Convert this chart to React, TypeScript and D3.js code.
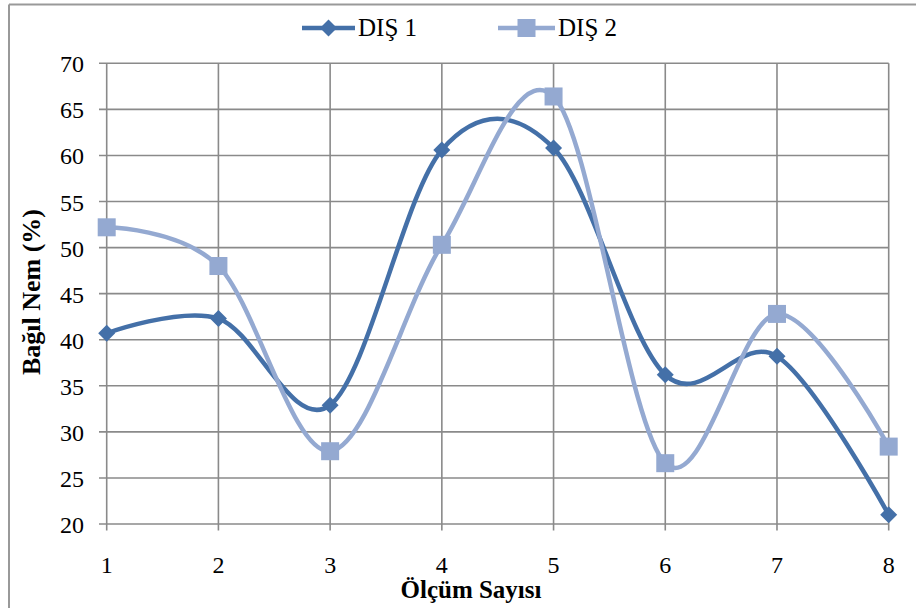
import React from "react";
import * as d3 from "d3";

const categories = [1, 2, 3, 4, 5, 6, 7, 8];
const dis1 = [40.7, 42.3, 32.9, 60.6, 60.8, 36.2, 38.2, 21.0];
const dis2 = [52.2, 48.0, 27.9, 50.3, 66.4, 26.6, 42.8, 28.4];
const yTicks = [20, 25, 30, 35, 40, 45, 50, 55, 60, 65, 70];
const seriesNames = ["DIŞ 1", "DIŞ 2"];

const W = 916, H = 608;
const C1 = "#4470A8";
const C2 = "#94A9D1";
const GRID = "#8a8a8a";
const SERIF = "Liberation Serif";

export default function App() {
  const x = d3.scaleLinear().domain([1, 8]).range([106.7, 888.7]);
  const y = d3.scaleLinear().domain([20, 70]).range([524, 63.3]);
  const line = d3
    .line<number>()
    .x((_, i) => x(categories[i]))
    .y((d) => y(d))
    .curve(d3.curveCardinal.tension(0));

  const diamond = (cx: number, cy: number, r: number) =>
    `M${cx},${cy - r}L${cx + r},${cy}L${cx},${cy + r}L${cx - r},${cy}Z`;

  return (
    <svg
      width={W}
      height={H}
      style={{ position: "absolute", left: 0, top: 0, background: "#fff" }}
    >
      <rect x={0} y={0} width={W} height={H} fill="#fff" />
      <line x1={9} x2={9} y1={4.5} y2={H} stroke="#999" strokeWidth={2} />
      <line x1={9} x2={W} y1={4.5} y2={4.5} stroke="#999" strokeWidth={2} />

      {yTicks.map((t) => (
        <line key={"h" + t} x1={99} x2={888.7} y1={y(t)} y2={y(t)} stroke={GRID} strokeWidth={1.6} />
      ))}
      {categories.map((c) => (
        <line key={"v" + c} x1={x(c)} x2={x(c)} y1={y(70)} y2={530.5} stroke={GRID} strokeWidth={1.6} />
      ))}
      {yTicks.map((t) => (
        <text key={"yl" + t} x={84} y={y(t) + 9} textAnchor="end" fontFamily={SERIF} fontSize={24}>
          {String(t)}
        </text>
      ))}
      {categories.map((c) => (
        <text key={"xl" + c} x={x(c)} y={572.5} textAnchor="middle" fontFamily={SERIF} fontSize={24}>
          {String(c)}
        </text>
      ))}

      <path d={line(dis1) || ""} fill="none" stroke={C1} strokeWidth={4.5} />
      <path d={line(dis2) || ""} fill="none" stroke={C2} strokeWidth={4.5} />
      {dis1.map((v, i) => (
        <path key={"m1" + i} d={diamond(x(categories[i]), y(v), 8.5)} fill={C1} />
      ))}
      {dis2.map((v, i) => (
        <rect key={"m2" + i} x={x(categories[i]) - 9} y={y(v) - 9} width={18} height={18} fill={C2} />
      ))}

      <line x1={302} x2={355} y1={28} y2={28} stroke={C1} strokeWidth={4.5} />
      <path d={diamond(328.5, 28, 8.5)} fill={C1} />
      <text x={358} y={36} fontFamily={SERIF} fontSize={25}>{seriesNames[0]}</text>
      <line x1={498} x2={555} y1={28} y2={28} stroke={C2} strokeWidth={4.5} />
      <rect x={517.5} y={19} width={18} height={18} fill={C2} />
      <text x={558} y={36} fontFamily={SERIF} fontSize={25}>{seriesNames[1]}</text>

      <text x={471} y={598} textAnchor="middle" fontFamily={SERIF} fontSize={25} fontWeight="bold">
        Ölçüm Sayısı
      </text>
      <text transform="translate(39.5,292) rotate(-90)" textAnchor="middle" fontFamily={SERIF} fontSize={26} fontWeight="bold">
        Bağıl Nem (%)
      </text>
    </svg>
  );
}
